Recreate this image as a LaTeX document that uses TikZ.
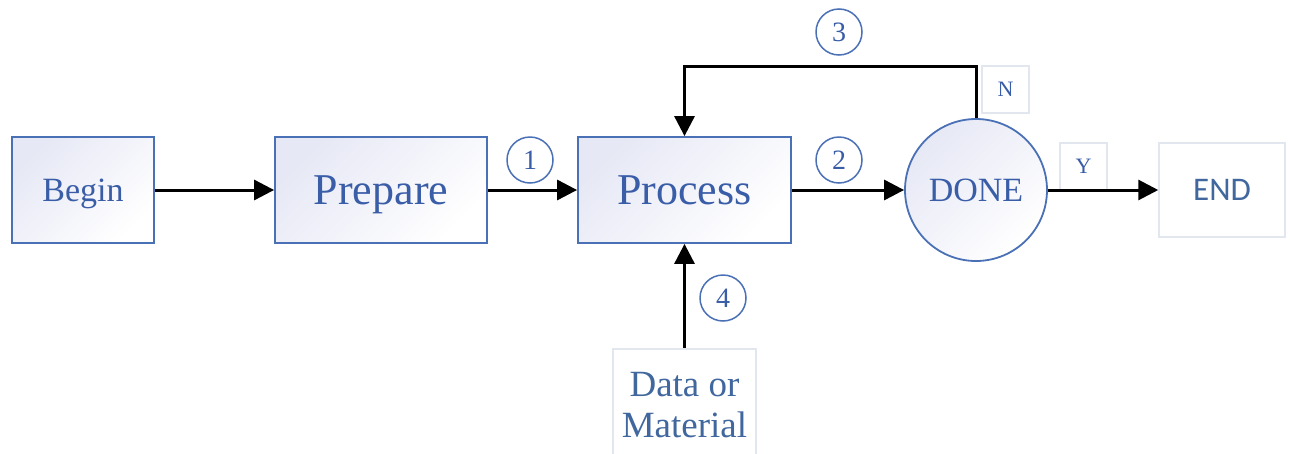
\documentclass[tikz,border=0pt]{standalone}
\usepackage{fontspec}
\setmainfont{Liberation Serif}
\newfontfamily\endfont{Carlito}
\usetikzlibrary{arrows.meta}
\definecolor{boxline}{HTML}{4A70B6}
\definecolor{boxtext}{HTML}{3A5DA8}
\definecolor{softtext}{HTML}{41689E}
\definecolor{paleline}{HTML}{E2E6EF}
\definecolor{boxtint}{HTML}{E6E8F5}
\tikzset{
  stage/.style={draw=boxline, line width=1.8pt, left color=boxtint, right color=white,
    shading angle=45, text=boxtext, inner sep=0pt, text depth=0pt},
  plain/.style={draw=paleline, line width=1.5pt, fill=white, inner sep=0pt},
  tag/.style={plain, minimum width=47pt, minimum height=47pt, text=boxtext,
    font=\fontsize{22}{24}\selectfont},
  num/.style={circle, draw=boxline, line width=1.5pt, fill=white, minimum size=46pt,
    inner sep=0pt, text=boxtext, font=\fontsize{28}{30}\selectfont},
  arr/.style={line width=3pt, -{Triangle[length=20pt,width=20pt]}},
}
\begin{document}
\begin{tikzpicture}[x=1pt,y=-1pt]
\useasboundingbox (0,0) rectangle (1290,453);
\clip (0,0) rectangle (1290,453);

% main stages
\node[stage, minimum width=142pt, minimum height=106pt,
  font=\fontsize{34}{38}\selectfont] (begin) at (83,190) {Begin};
\node[stage, minimum width=212pt, minimum height=106pt,
  font=\fontsize{44}{48}\selectfont] (prepare) at (381,190) {Prepare};
\node[stage, minimum width=213pt, minimum height=106pt,
  font=\fontsize{44}{48}\selectfont] (process) at (684.5,190) {Process};
\node[stage, circle, minimum size=142pt,
  font=\fontsize{34}{38}\selectfont] (done) at (976,190) {DONE};
\node[plain, minimum width=126pt, minimum height=94pt, text=softtext, text depth=0pt,
  font=\endfont\fontsize{33}{36}\selectfont] (end) at (1222,190) {END};
\node[plain, minimum width=143pt, minimum height=112pt, text=softtext, align=center,
  font=\fontsize{37}{41}\selectfont, anchor=north] (data) at (684.5,348)
  {Data or\\Material};

% decision labels
\node[tag] (no) at (1005.5,89.5) {N};
\node[tag] (yes) at (1083.5,166.5) {Y};

% step numbers
\node[num] (n1) at (530,160) {1};
\node[num] (n2) at (839,160) {2};
\node[num] (n3) at (839,32) {3};
\node[num] (n4) at (723,298) {4};

% flow
\coordinate (loop) at (684.5,66);
\draw[arr] (begin) -- (prepare);
\draw[arr] (prepare) -- (process);
\draw[arr] (process) -- (done);
\draw[arr] (done) -- (end);
\draw[arr] (done.north) |- (loop) -- (process.north);
\draw[arr] (data) -- (process);
\end{tikzpicture}
\end{document}
